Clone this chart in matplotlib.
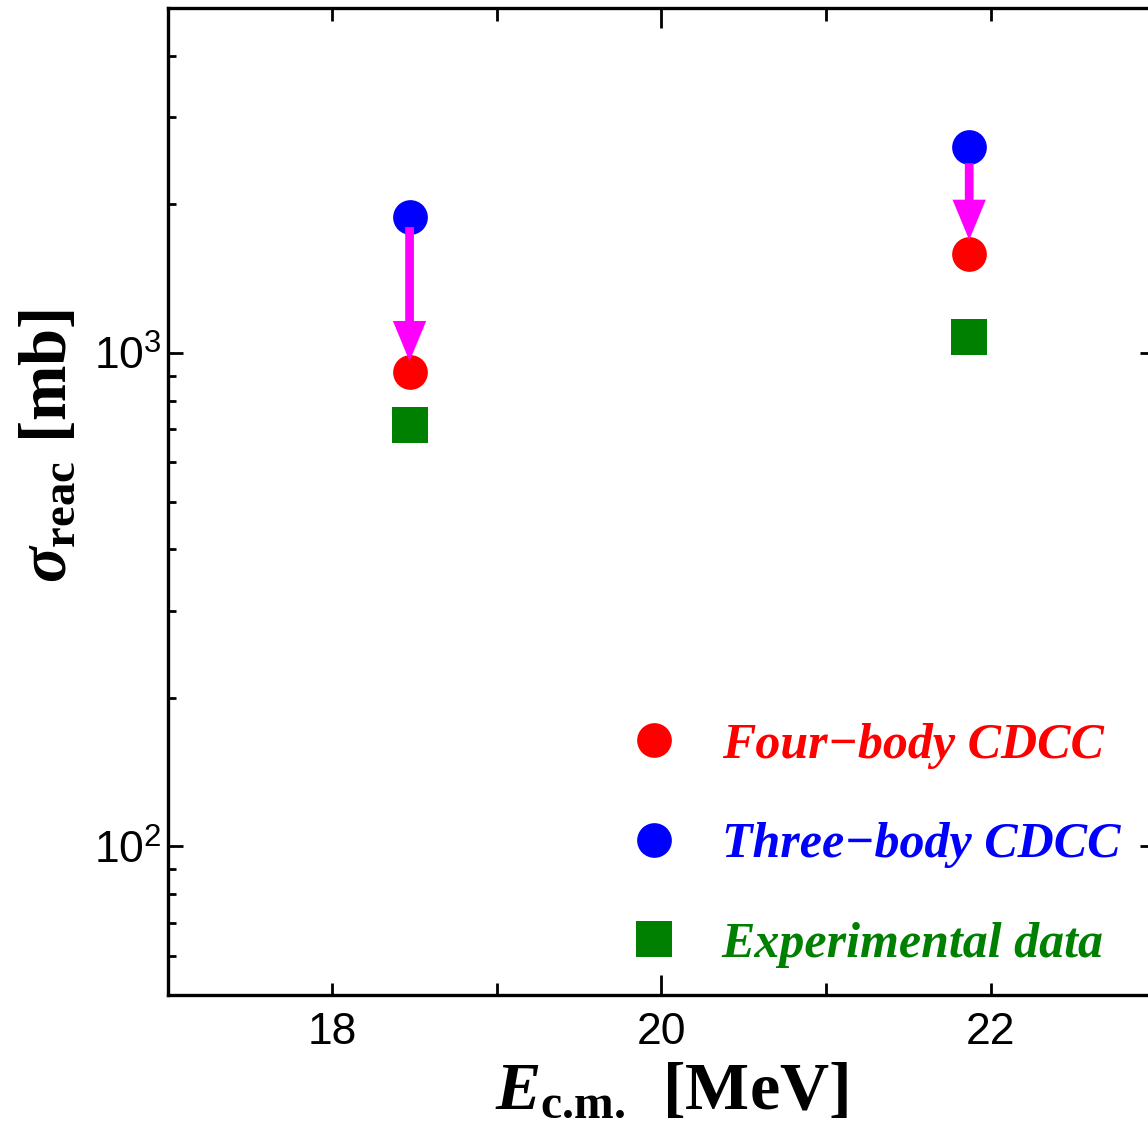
import matplotlib
matplotlib.use("Agg")
import matplotlib.pyplot as plt
from matplotlib.ticker import FixedLocator, LogLocator, NullFormatter

plt.rcParams['font.family'] = ['Liberation Sans', 'DejaVu Sans']
plt.rcParams['mathtext.fontset'] = 'custom'
plt.rcParams['mathtext.rm'] = 'Liberation Serif:bold'
plt.rcParams['mathtext.bf'] = 'Liberation Serif:bold'
plt.rcParams['mathtext.it'] = 'Liberation Serif:italic:bold'

# data
energy = [18.47, 21.87]            # E_c.m. [MeV]
three_body = [1890, 2619]          # sigma_reac [mb]
four_body = [917, 1589]
experiment = [716, 1079]
arrow_from = [1799, 2424]
arrow_to = [962, 1694]

labels = ["Four\u2212body CDCC", "Three\u2212body CDCC", "Experimental data"]

W, H = 1148, 1129
fig = plt.figure(figsize=(W/100, H/100), dpi=100)
ax = fig.add_axes([167.6/W, (H-995)/H, 987.6/W, 987/H])

l3, = ax.plot(energy, three_body, 'o', color='blue', ms=25, mew=0, zorder=3)
l4, = ax.plot(energy, four_body, 'o', color='red', ms=25, mew=0, zorder=3)
le, = ax.plot(energy, experiment, 's', color='green', ms=26, mew=0, zorder=3)

for x, a, b in zip(energy, arrow_from, arrow_to):
    ax.annotate('', xy=(x, b), xytext=(x, a),
                arrowprops=dict(arrowstyle='simple,head_length=29,head_width=24,tail_width=6.3',
                                mutation_scale=1, color='#ff00ff', lw=0,
                                shrinkA=0, shrinkB=0),
                zorder=4)

ax.set_yscale('log')
ax.set_xlim(17, 23)
ax.set_ylim(50, 5000)

ax.xaxis.set_major_locator(FixedLocator([18, 20, 22]))
ax.xaxis.set_minor_locator(FixedLocator([19, 21]))
ax.yaxis.set_minor_locator(LogLocator(base=10, subs=range(2, 10)))
ax.yaxis.set_minor_formatter(NullFormatter())

for s in ax.spines.values():
    s.set_linewidth(2.4)

ax.tick_params(which='both', direction='in', top=True, right=True, width=2)
ax.tick_params(axis='x', which='both', length=9, labelsize=32, pad=12)
ax.tick_params(axis='y', which='major', length=11, labelsize=32, pad=4)
ax.tick_params(axis='y', which='minor', length=6)
ax.tick_params(axis='y', which='minor', right=False)
# the tick at 20 is drawn longer in the original
t20 = ax.xaxis.get_major_ticks()[1]
t20.tick1line.set_markersize(14.5)
t20.tick2line.set_markersize(14.5)

ax.set_xlabel(r'$E_{\text{c.m.}}\ \ \mathbf{[MeV]}$', fontsize=49)
ax.set_ylabel(r'$\sigma_{\mathbf{reac}}\ \mathbf{[mb]}$', fontsize=48)
ax.xaxis.set_label_coords(0.510, -0.065)
ax.yaxis.set_label_coords(-0.089, 0.556)

ax.legend([l4, l3, le], labels, loc='upper left', bbox_to_anchor=(0.467, 0.276),
          frameon=False, borderpad=0, borderaxespad=0, numpoints=1,
          handlelength=1.0, handletextpad=0.86, labelspacing=1.07,
          labelcolor='linecolor',
          prop=dict(family='Liberation Serif', weight='bold', style='italic', size=36))

fig.savefig('out.png', dpi=100)
